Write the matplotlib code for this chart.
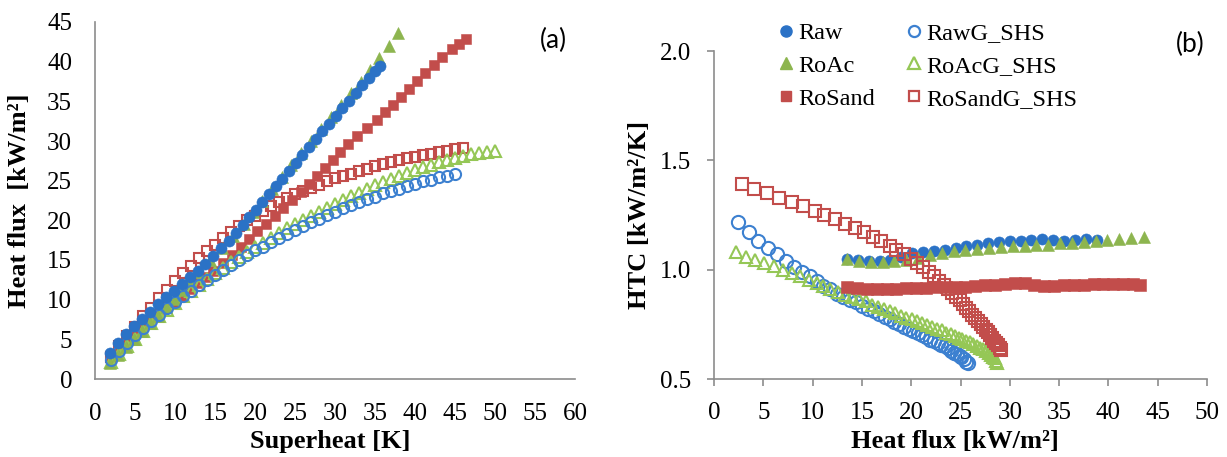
import matplotlib
matplotlib.use('Agg')
import matplotlib.pyplot as plt
from matplotlib.lines import Line2D
from matplotlib.ticker import FormatStrFormatter

plt.rcParams['font.family'] = ['Liberation Serif', 'DejaVu Serif']

# ---------------- (a) superheat [K] vs heat flux [kW/m2] ----------------
raw_sh = [1.9, 2.9, 3.9, 4.9, 5.9, 6.9, 7.9, 8.9, 9.9, 10.9, 11.9, 12.9, 13.8, 14.8, 15.8, 16.7, 17.6, 18.5, 19.3, 20.1,
          20.9, 21.8, 22.6, 23.4, 24.3, 25.1, 25.9, 26.8, 27.6, 28.4, 29.3, 30.1, 30.9, 31.8, 32.6, 33.4, 34.2, 35.0, 35.6]
raw_q = [3.3, 4.6, 5.7, 6.7, 7.6, 8.5, 9.4, 10.3, 11.1, 12.0, 12.8, 13.6, 14.5, 15.5, 16.5, 17.4, 18.4, 19.4, 20.4, 21.3,
         22.3, 23.3, 24.3, 25.2, 26.2, 27.2, 28.2, 29.2, 30.2, 31.2, 32.2, 33.1, 34.1, 35.1, 36.1, 37.0, 38.0, 38.8, 39.4]

roac_sh = [1.9, 2.9, 3.9, 4.9, 5.9, 6.9, 7.9, 8.9, 9.9, 10.9, 11.9, 12.9, 14.4, 15.9, 17.3, 18.6, 19.8, 20.9, 22.1, 23.4,
           24.5, 25.8, 27.0, 28.3, 29.5, 30.8, 32.0, 33.2, 34.4, 35.5, 36.7, 37.9]
roac_q = [2.0, 3.0, 4.0, 5.0, 6.0, 7.0, 8.0, 9.1, 10.1, 11.2, 12.3, 13.5, 15.0, 16.5, 18.0, 19.5, 21.0, 22.5, 24.0, 25.5,
          27.0, 28.5, 30.0, 31.5, 33.0, 34.5, 36.0, 37.5, 39.0, 40.5, 42.0, 43.6]

rosand_sh = [1.9, 2.9, 3.9, 4.9, 5.9, 6.9, 7.9, 8.9, 9.9, 10.9, 11.9, 12.9, 13.9, 14.8, 16.0, 17.1, 18.2, 19.3, 20.3, 21.4,
             22.5, 23.5, 24.6, 25.7, 26.7, 27.7, 28.7, 29.7, 30.6, 31.6, 32.7, 34.0, 35.2, 36.2, 37.2, 38.3, 39.3, 40.3,
             41.3, 42.4, 43.4, 44.6, 45.5, 46.4]
rosand_q = [2.8, 3.8, 4.7, 5.6, 6.5, 7.3, 8.1, 8.9, 9.7, 10.5, 11.3, 12.1, 12.9, 13.6, 14.6, 15.6, 16.6, 17.6, 18.6, 19.6,
            20.6, 21.6, 22.6, 23.6, 24.6, 25.6, 26.6, 27.6, 28.6, 29.6, 30.6, 31.6, 32.6, 33.6, 34.6, 35.6, 36.6, 37.6,
            38.6, 39.6, 40.6, 41.6, 42.2, 42.8]

rawg_sh = [2.0, 3.0, 4.0, 5.0, 6.0, 7.0, 8.0, 9.0, 10.0, 11.0, 12.0, 13.0, 14.0, 15.0, 16.0, 17.0, 18.0, 19.0, 20.0, 21.0,
           22.0, 23.0, 24.0, 25.0, 26.0, 27.0, 28.0, 29.0, 30.0, 31.0, 32.0, 33.0, 34.0, 35.0, 36.0, 37.0, 38.0, 39.0,
           40.0, 41.0, 42.0, 43.0, 44.0, 45.0]
rawg_q = [2.4, 3.5, 4.5, 5.5, 6.4, 7.3, 8.1, 8.9, 9.7, 10.4, 11.1, 11.8, 12.5, 13.1, 13.8, 14.4, 15.0, 15.6, 16.2, 16.7,
          17.3, 17.8, 18.3, 18.8, 19.3, 19.8, 20.2, 20.7, 21.1, 21.5, 21.9, 22.3, 22.7, 23.0, 23.4, 23.7, 24.0, 24.3,
          24.6, 24.9, 25.1, 25.4, 25.6, 25.8]

roacg_sh = [2.0, 3.0, 4.0, 5.0, 6.0, 7.0, 8.0, 9.0, 10.0, 11.0, 12.0, 13.0, 14.0, 15.0, 16.0, 17.0, 18.0, 19.0, 20.0, 21.0,
            22.0, 23.0, 24.0, 25.0, 26.0, 27.0, 28.0, 29.0, 30.0, 31.0, 32.0, 33.0, 34.0, 35.0, 36.0, 37.0, 38.0, 39.0,
            40.0, 41.0, 42.0, 43.0, 44.0, 45.0, 46.0, 47.0, 48.0, 49.0, 50.0]
roacg_q = [2.2, 3.2, 4.2, 5.1, 6.1, 7.0, 7.9, 8.7, 9.6, 10.4, 11.1, 11.8, 12.6, 13.3, 14.0, 14.7, 15.4, 16.0, 16.6, 17.2,
           17.8, 18.4, 19.0, 19.5, 20.1, 20.6, 21.1, 21.6, 22.1, 22.6, 23.1, 23.5, 24.0, 24.4, 24.8, 25.2, 25.6, 26.0,
           26.3, 26.7, 27.0, 27.3, 27.6, 27.9, 28.1, 28.3, 28.5, 28.6, 28.7]

rosandg_sh = [2.0, 3.0, 4.0, 5.0, 6.0, 7.0, 8.0, 9.0, 10.0, 11.0, 12.0, 13.0, 14.0, 15.0, 16.0, 17.0, 18.0, 19.0, 20.0,
              21.0, 22.0, 23.0, 24.0, 25.0, 26.0, 27.0, 28.0, 29.0, 30.0, 31.0, 32.0, 33.0, 34.0, 35.0, 36.0, 37.0,
              38.0, 39.0, 40.0, 41.0, 42.0, 43.0, 44.0, 45.0, 46.0]
rosandg_q = [2.8, 4.1, 5.4, 6.6, 7.9, 9.0, 10.2, 11.2, 12.3, 13.3, 14.3, 15.2, 16.1, 16.9, 17.8, 18.5, 19.3, 20.0, 20.6,
             21.2, 21.8, 22.3, 22.8, 23.3, 23.7, 24.1, 24.5, 24.9, 25.3, 25.6, 25.9, 26.2, 26.5, 26.8, 27.1, 27.3,
             27.6, 27.8, 28.0, 28.2, 28.4, 28.6, 28.8, 29.0, 29.1]

# ---------------- (b) heat flux [kW/m2] vs HTC [kW/m2/K] ----------------
raw_q_b = [13.5, 14.6, 15.7, 16.8, 17.9, 19.0, 20.1, 21.2, 22.3, 23.4, 24.5, 25.6, 26.7, 27.8, 28.9, 30.0, 31.1, 32.2,
           33.3, 34.4, 35.5, 36.6, 37.7, 38.8]
raw_htc = [1.05, 1.045, 1.04, 1.04, 1.045, 1.06, 1.075, 1.08, 1.085, 1.09, 1.10, 1.11, 1.115, 1.12, 1.125, 1.13, 1.13,
           1.135, 1.14, 1.135, 1.13, 1.135, 1.14, 1.135]

roac_q_b = [13.5, 14.7, 15.9, 17.1, 18.3, 19.5, 20.7, 21.9, 23.1, 24.3, 25.5, 26.7, 27.9, 29.1, 30.3, 31.5, 32.7, 33.9,
            35.1, 36.3, 37.5, 38.7, 39.9, 41.1, 42.3, 43.6]
roac_htc = [1.05, 1.04, 1.035, 1.035, 1.04, 1.045, 1.055, 1.065, 1.075, 1.085, 1.09, 1.095, 1.10, 1.105, 1.11, 1.11,
            1.115, 1.115, 1.12, 1.12, 1.125, 1.13, 1.135, 1.14, 1.145, 1.15]

rosand_q_b = [13.5, 14.5, 15.5, 16.5, 17.5, 18.5, 19.5, 20.5, 21.5, 22.5, 23.5, 24.5, 25.5, 26.5, 27.5, 28.5, 29.5, 30.5,
              31.5, 32.5, 33.5, 34.5, 35.5, 36.5, 37.5, 38.5, 39.5, 40.5, 41.5, 42.5, 43.2]
rosand_htc = [0.92, 0.915, 0.91, 0.91, 0.91, 0.912, 0.915, 0.915, 0.917, 0.92, 0.92, 0.92, 0.922, 0.925, 0.928, 0.93,
              0.935, 0.937, 0.94, 0.93, 0.925, 0.925, 0.928, 0.93, 0.932, 0.933, 0.935, 0.935, 0.935, 0.933, 0.93]

rawg_htc = [1.22, 1.17, 1.13, 1.10, 1.07, 1.04, 1.01, 0.99, 0.97, 0.95, 0.925, 0.91, 0.89, 0.875, 0.86, 0.85, 0.835,
            0.82, 0.81, 0.795, 0.785, 0.775, 0.76, 0.75, 0.74, 0.73, 0.72, 0.71, 0.70, 0.69, 0.68, 0.675, 0.665, 0.655,
            0.65, 0.64, 0.63, 0.62, 0.615, 0.605, 0.60, 0.59, 0.58, 0.575]
roacg_htc = [1.08, 1.06, 1.045, 1.03, 1.015, 1.0, 0.985, 0.97, 0.955, 0.94, 0.925, 0.91, 0.90, 0.885, 0.875, 0.865,
             0.855, 0.84, 0.83, 0.82, 0.81, 0.80, 0.79, 0.78, 0.773, 0.763, 0.754, 0.745, 0.737, 0.729, 0.722, 0.712,
             0.706, 0.697, 0.689, 0.681, 0.674, 0.667, 0.658, 0.651, 0.643, 0.635, 0.627, 0.62, 0.611, 0.602, 0.594,
             0.584, 0.574]
rosandg_htc = [1.39, 1.37, 1.35, 1.33, 1.31, 1.29, 1.27, 1.25, 1.23, 1.21, 1.19, 1.17, 1.15, 1.13, 1.11, 1.09, 1.07,
               1.05, 1.03, 1.01, 0.99, 0.97, 0.95, 0.93, 0.91, 0.893, 0.875, 0.859, 0.843, 0.826, 0.809, 0.794, 0.779,
               0.766, 0.753, 0.738, 0.726, 0.713, 0.70, 0.688, 0.676, 0.665, 0.655, 0.644, 0.633]

sh_ticks = list(range(0, 61, 5))
q_ticks_a = list(range(0, 46, 5))
q_ticks_b = list(range(0, 51, 5))
htc_ticks = [0.5, 1.0, 1.5, 2.0]

BLUE = '#2b72c6'
BLUE_O = '#3c80d0'
GREEN = '#8db54f'
GREEN_O = '#95c756'
RED = '#c24d4b'
GREY = '#8c8c8c'


def draw(ax, x, y, marker, color, filled, size):
    if filled:
        ax.plot(x, y, ls='none', marker=marker, ms=size, mfc=color, mec=color, mew=0.4, clip_on=False)
    else:
        ax.plot(x, y, ls='none', marker=marker, ms=size, mfc='none', mec=color, mew=1.5, clip_on=False)


fig = plt.figure(figsize=(12.27, 4.57), dpi=100)
ax1 = fig.add_axes([95 / 1227, 1 - 379 / 457, 480 / 1227, 357 / 457])
ax2 = fig.add_axes([714 / 1227, 1 - 379 / 457, 493 / 1227, 328 / 457])

# left: later series first so Raw ends up on top
draw(ax1, rosandg_sh, rosandg_q, 's', RED, False, 7.5)
draw(ax1, rosand_sh, rosand_q, 's', RED, True, 7.5)
draw(ax1, roacg_sh, roacg_q, '^', GREEN_O, False, 8.5)
draw(ax1, roac_sh, roac_q, '^', GREEN, True, 8.5)
draw(ax1, rawg_sh, rawg_q, 'o', BLUE_O, False, 8)
draw(ax1, raw_sh, raw_q, 'o', BLUE, True, 8)

draw(ax2, raw_q_b, raw_htc, 'o', BLUE, True, 8)
draw(ax2, rawg_q, rawg_htc, 'o', BLUE_O, False, 9.5)
draw(ax2, roac_q_b, roac_htc, '^', GREEN, True, 8.5)
draw(ax2, roacg_q, roacg_htc, '^', GREEN_O, False, 9)
draw(ax2, rosand_q_b, rosand_htc, 's', RED, True, 8.5)
draw(ax2, rosandg_q, rosandg_htc, 's', RED, False, 8.5)

for ax in (ax1, ax2):
    for s in ('top', 'right'):
        ax.spines[s].set_visible(False)
    for s in ('left', 'bottom'):
        ax.spines[s].set_color(GREY)
        ax.spines[s].set_linewidth(1.2)

ax1.set_xlim(0, 60)
ax1.set_ylim(0, 45)
ax1.set_xticks(sh_ticks)
ax1.set_yticks(q_ticks_a)
ax1.tick_params(axis='x', length=0, pad=17, labelsize=18)
ax1.tick_params(axis='y', length=0, pad=16.5, labelsize=18)
ax1.set_xlabel('Superheat [K]', fontsize=19, fontweight='bold')
ax1.set_ylabel('Heat flux  [kW/m²]', fontsize=19, fontweight='bold')
ax1.xaxis.set_label_coords(0.49, -0.143)
ax1.yaxis.set_label_coords(-0.134, 0.5)

ax2.set_xlim(0, 50)
ax2.set_ylim(0.5, 2.0)
ax2.set_xticks(q_ticks_b)
ax2.set_yticks(htc_ticks)
ax2.yaxis.set_major_formatter(FormatStrFormatter('%.1f'))
ax2.tick_params(direction='out', length=5, width=1.2, color=GREY, pad=11.5, labelsize=18)
ax2.set_xlabel('Heat flux [kW/m²]', fontsize=19, fontweight='bold')
ax2.set_ylabel('HTC [kW/m²/K]', fontsize=19, fontweight='bold')
ax2.xaxis.set_label_coords(0.489, -0.155)
ax2.yaxis.set_label_coords(-0.128, 0.5)

fig.text(553 / 1227, 1 - 40 / 457, '(a)', family='Lato', fontsize=19, ha='center', va='center')
fig.text(1190 / 1227, 1 - 44 / 457, '(b)', family='Lato', fontsize=19, ha='center', va='center')

names = ['Raw', 'RoAc', 'RoSand', 'RawG_SHS', 'RoAcG_SHS', 'RoSandG_SHS']
handles = [
    Line2D([], [], ls='none', marker='o', ms=8, mfc=BLUE, mec=BLUE),
    Line2D([], [], ls='none', marker='^', ms=8, mfc=GREEN, mec=GREEN),
    Line2D([], [], ls='none', marker='s', ms=7.5, mfc=RED, mec=RED),
    Line2D([], [], ls='none', marker='o', ms=8, mfc='none', mec=BLUE_O, mew=1.6),
    Line2D([], [], ls='none', marker='^', ms=8, mfc='none', mec=GREEN_O, mew=1.6),
    Line2D([], [], ls='none', marker='s', ms=7.5, mfc='none', mec=RED, mew=1.6),
]
fig.legend(handles, names, loc='upper left', bbox_to_anchor=(779 / 1227, 1 - 22 / 457), ncol=2, frameon=False,
           fontsize=17.5, handlelength=0.6, handletextpad=0.2, columnspacing=1.3, labelspacing=0.45,
           borderpad=0, borderaxespad=0)

fig.savefig('out.png', dpi=100)
